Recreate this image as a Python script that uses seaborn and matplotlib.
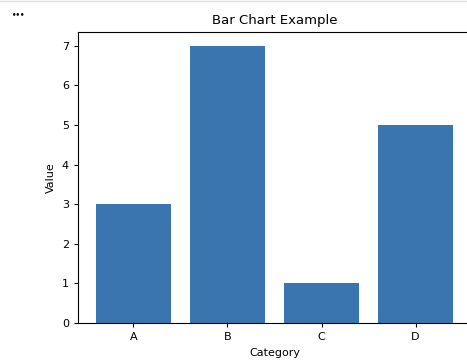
import matplotlib
matplotlib.use("Agg")
import matplotlib.pyplot as plt
import seaborn as sns
import pandas as pd

categories = ["A", "B", "C", "D"]
values = [3, 7, 1, 5]

df = pd.DataFrame({"Category": categories, "Value": values})

fig = plt.figure(figsize=(4.67, 3.6), dpi=100)
# axes placed to match the (cropped) notebook output
ax = fig.add_axes([78 / 467, 37 / 360, 393 / 467, 291 / 360])

sns.barplot(data=df, x="Category", y="Value", color="#3a75af", saturation=1, width=0.8, ax=ax)
ax.set_xlim(-0.59, 3.59)
ax.set_ylim(0, 7.35)

ax.set_title("Bar Chart Example", fontsize=9.5)
ax.set_xlabel("Category", fontsize=8)
ax.set_ylabel("Value", fontsize=8)
ax.tick_params(labelsize=8, length=3)
for s in ax.spines.values():
    s.set_linewidth(0.8)

# notebook cell artefacts
fig.text(12 / 467, 1 - 14 / 360, "\u2022\u2022\u2022", fontsize=5, fontweight="bold", va="center")
fig.add_artist(plt.Line2D([0, 1], [1 - 1 / 360, 1 - 1 / 360], color="#e0e0e0", linewidth=1))

fig.savefig("out.png", dpi=100)
